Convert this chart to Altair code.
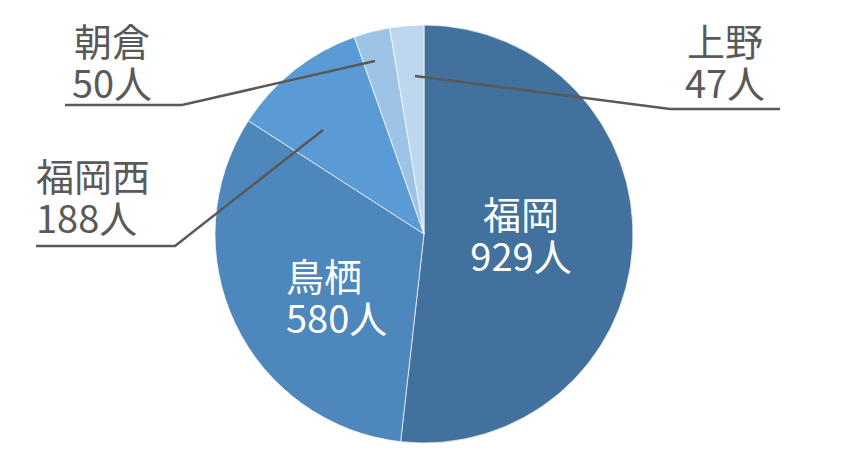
import altair as alt
import pandas as pd

# ---- data ----
categories = ["福岡", "鳥栖", "福岡西", "朝倉", "上野"]
values = [929, 580, 188, 50, 47]
unit = "人"
colors = ["#41719C", "#4E87BB", "#5B9BD5", "#9DC3E6", "#BDD7EE"]

# ---- layout (image pixel coordinates) ----
W, H = 832, 452
CX, CY, R = 424, 234, 209
FONT = "Noto Sans CJK JP"
FS = 38
LH = 42
GREY = "#595959"

# label block anchor: (x, first-line center y, align, inside?)
label_pos = {
    "福岡": (521, 218, "center", True),
    "鳥栖": (286, 280, "left", True),
    "福岡西": (36, 180, "left", False),
    "朝倉": (112, 45, "center", False),
    "上野": (725, 45, "center", False),
}
# leader lines: anchor -> elbow -> end
leaders = {
    "福岡西": [(323, 130), (175, 246), (36, 246)],
    "朝倉": [(375, 61), (182, 105), (65, 105)],
    "上野": [(415, 76), (670, 109), (780, 109)],
}

pie_df = pd.DataFrame({"cat": categories, "val": values, "idx": list(range(len(categories)))})

rows = []
for c, v in zip(categories, values):
    lx, ly, al, inside = label_pos[c]
    rows.append({"x": lx, "y": ly, "t": f"{c}\n{v}{unit}",
                 "col": "white" if inside else GREY, "al": al})
lab_df = pd.DataFrame(rows)

lrows = []
for c, pts in leaders.items():
    for i, (px, py) in enumerate(pts):
        lrows.append({"cat": c, "o": i, "x": px, "y": py})
lead_df = pd.DataFrame(lrows)

xs = alt.Scale(domain=[8, 8 + W], range=[0, W])
ys = alt.Scale(domain=[8, 8 + H], range=[0, H])

pie = alt.Chart(pie_df).mark_arc(outerRadius=R, stroke="white", strokeWidth=0.7).encode(
    theta=alt.Theta("val:Q", stack=True),
    order=alt.Order("idx:Q"),
    color=alt.Color("cat:N", scale=alt.Scale(domain=categories, range=colors), legend=None),
    x=alt.value(CX - 8),
    y=alt.value(CY - 8),
)

lines = alt.Chart(lead_df).mark_line(color=GREY, strokeWidth=2.5).encode(
    x=alt.X("x:Q", scale=xs, axis=None),
    y=alt.Y("y:Q", scale=ys, axis=None),
    detail="cat:N",
    order="o:Q",
)

def text_layer(al):
    return alt.Chart(lab_df).transform_filter(alt.datum.al == al).mark_text(
        font=FONT, fontSize=FS, align=al, baseline="middle", lineBreak="\n", lineHeight=LH
    ).encode(
        x=alt.X("x:Q", scale=xs, axis=None),
        y=alt.Y("y:Q", scale=ys, axis=None),
        text="t:N",
        color=alt.Color("col:N", scale=None),
    )

chart = alt.layer(pie, lines, text_layer("center"), text_layer("left")).properties(
    width=W, height=H, autosize=alt.AutoSizeParams(type="none"), padding=0
).configure_view(stroke=None)

chart.save("out.html", embed_options={"renderer": "svg", "actions": False})
